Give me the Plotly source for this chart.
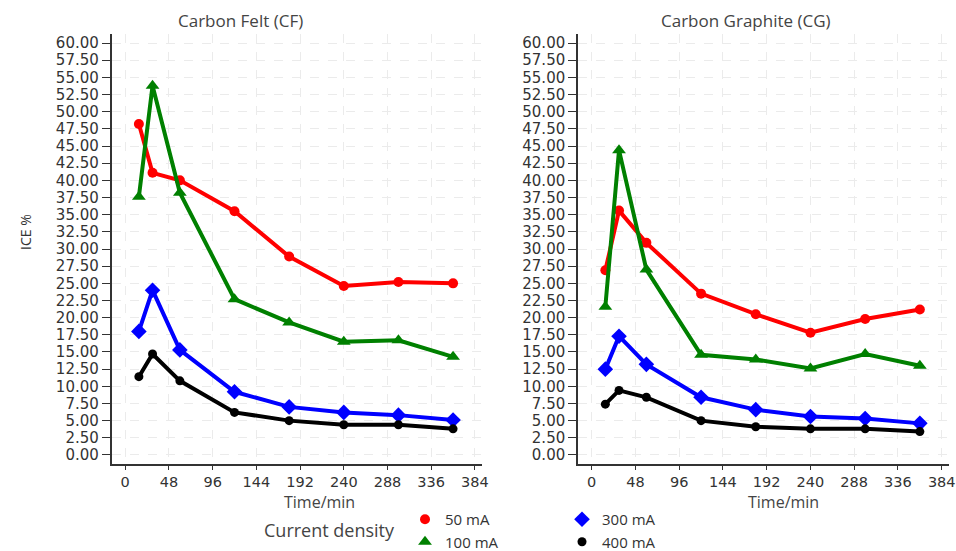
import plotly.graph_objects as go

# Sampling times (min)
time_min = [15, 30, 60, 120, 180, 240, 300, 360]

# ICE % per current density, Carbon Felt electrode
cf_50 = [48.2, 41.1, 40.0, 35.5, 28.9, 24.6, 25.2, 25.0]
cf_100 = [37.6, 53.8, 38.2, 22.7, 19.3, 16.5, 16.7, 14.3]
cf_300 = [18.0, 24.0, 15.3, 9.2, 7.0, 6.2, 5.8, 5.1]
cf_400 = [11.4, 14.7, 10.8, 6.2, 5.0, 4.4, 4.4, 3.8]

# ICE % per current density, Carbon Graphite electrode
cg_50 = [26.9, 35.6, 30.9, 23.5, 20.5, 17.8, 19.8, 21.2]
cg_100 = [21.6, 44.4, 27.0, 14.6, 13.9, 12.6, 14.7, 13.0]
cg_300 = [12.5, 17.3, 13.2, 8.4, 6.6, 5.6, 5.3, 4.6]
cg_400 = [7.4, 9.4, 8.4, 5.0, 4.1, 3.8, 3.8, 3.4]

series_names = ["50 mA", "100 mA", "300 mA", "400 mA"]
x_ticks = [0, 48, 96, 144, 192, 240, 288, 336, 384]
y_ticks = [i * 2.5 for i in range(25)]
y_tick_text = [f"{v:.2f}" for v in y_ticks]

colors = ["#ff0000", "#008000", "#0000ff", "#000000"]
symbols = ["circle", "triangle-up", "diamond", "circle"]
msizes = [10, 12, 12, 9]
legend_ids = ["legend", "legend", "legend2", "legend2"]

fig = go.Figure()

panels = [("x", "y", [cf_50, cf_100, cf_300, cf_400], True),
          ("x2", "y2", [cg_50, cg_100, cg_300, cg_400], False)]

for xa, ya, data, show in panels:
    for name, vals, c, s, ms, lg in zip(series_names, data, colors, symbols, msizes, legend_ids):
        fig.add_trace(go.Scatter(
            x=time_min, y=vals, mode="lines", xaxis=xa, yaxis=ya,
            line=dict(color=c, width=4), showlegend=False, hoverinfo="skip"))
        fig.add_trace(go.Scatter(
            x=time_min, y=vals, mode="markers", xaxis=xa, yaxis=ya,
            marker=dict(color=c, symbol=s, size=ms), name=name,
            legendgroup=name, showlegend=show, legend=lg))

grid_common = dict(showgrid=True, gridcolor="#ebebeb", griddash="dash", gridwidth=1,
                   zeroline=False, ticks="outside", tickcolor="#333333",
                   showline=True, linecolor="#333333", linewidth=1.5,
                   ticklabeloverflow="allow")

xcommon = dict(range=[-15, 392], tickvals=x_ticks, ticklen=4,
               tickfont=dict(family="DejaVu Sans", size=14.5, color="#333333"), **grid_common)
ycommon = dict(range=[-1.31, 61.3], tickvals=y_ticks, ticktext=y_tick_text, ticklen=8,
               tickfont=dict(family="DejaVu Sans", size=15, color="#333333"), **grid_common)

legend_common = dict(orientation="v", y=1 - 503 / 551, yanchor="top", xanchor="left",
                     itemsizing="trace", tracegroupgap=0, bgcolor="rgba(0,0,0,0)",
                     font=dict(family="Open Sans", size=15, color="#333333"))

fig.update_layout(
    width=956, height=551,
    margin=dict(l=0, r=0, t=0, b=0, autoexpand=False),
    plot_bgcolor="white", paper_bgcolor="white",
    xaxis=dict(domain=[0.1167, 0.5044], anchor="y", **xcommon),
    yaxis=dict(domain=[0.158, 0.938], anchor="x", **ycommon),
    xaxis2=dict(domain=[0.6046, 0.9927], anchor="y2", **xcommon),
    yaxis2=dict(domain=[0.158, 0.938], anchor="x2", **ycommon),
    legend=dict(x=405 / 956, **legend_common),
    legend2=dict(x=562 / 956, **legend_common),
    showlegend=True,
)

title_font = dict(family="Open Sans", size=17, color="#444444")
fig.add_annotation(text="Carbon Felt (CF)", x=240 / 956, y=1 - 21 / 551, xref="paper", yref="paper",
                   showarrow=False, font=title_font, xanchor="center", yanchor="middle")
fig.add_annotation(text="Carbon Graphite (CG)", x=746 / 956, y=1 - 21 / 551, xref="paper", yref="paper",
                   showarrow=False, font=title_font, xanchor="center", yanchor="middle")
fig.add_annotation(text="ICE %", x=25 / 956, y=1 - 232 / 551, xref="paper", yref="paper",
                   showarrow=False, textangle=-90, font=dict(family="Open Sans", size=14, color="#333333"),
                   xanchor="center", yanchor="middle")
for cx in (319, 783):
    fig.add_annotation(text="Time/min", x=cx / 956, y=1 - 502 / 551, xref="paper", yref="paper",
                       showarrow=False, font=dict(family="Open Sans", size=16, color="#444444"),
                       xanchor="center", yanchor="middle")
fig.add_annotation(text="Current density", x=329 / 956, y=1 - 530 / 551, xref="paper", yref="paper",
                   showarrow=False, font=dict(family="Open Sans", size=18, color="#444444"),
                   xanchor="center", yanchor="middle")

fig.write_html("out.html")
